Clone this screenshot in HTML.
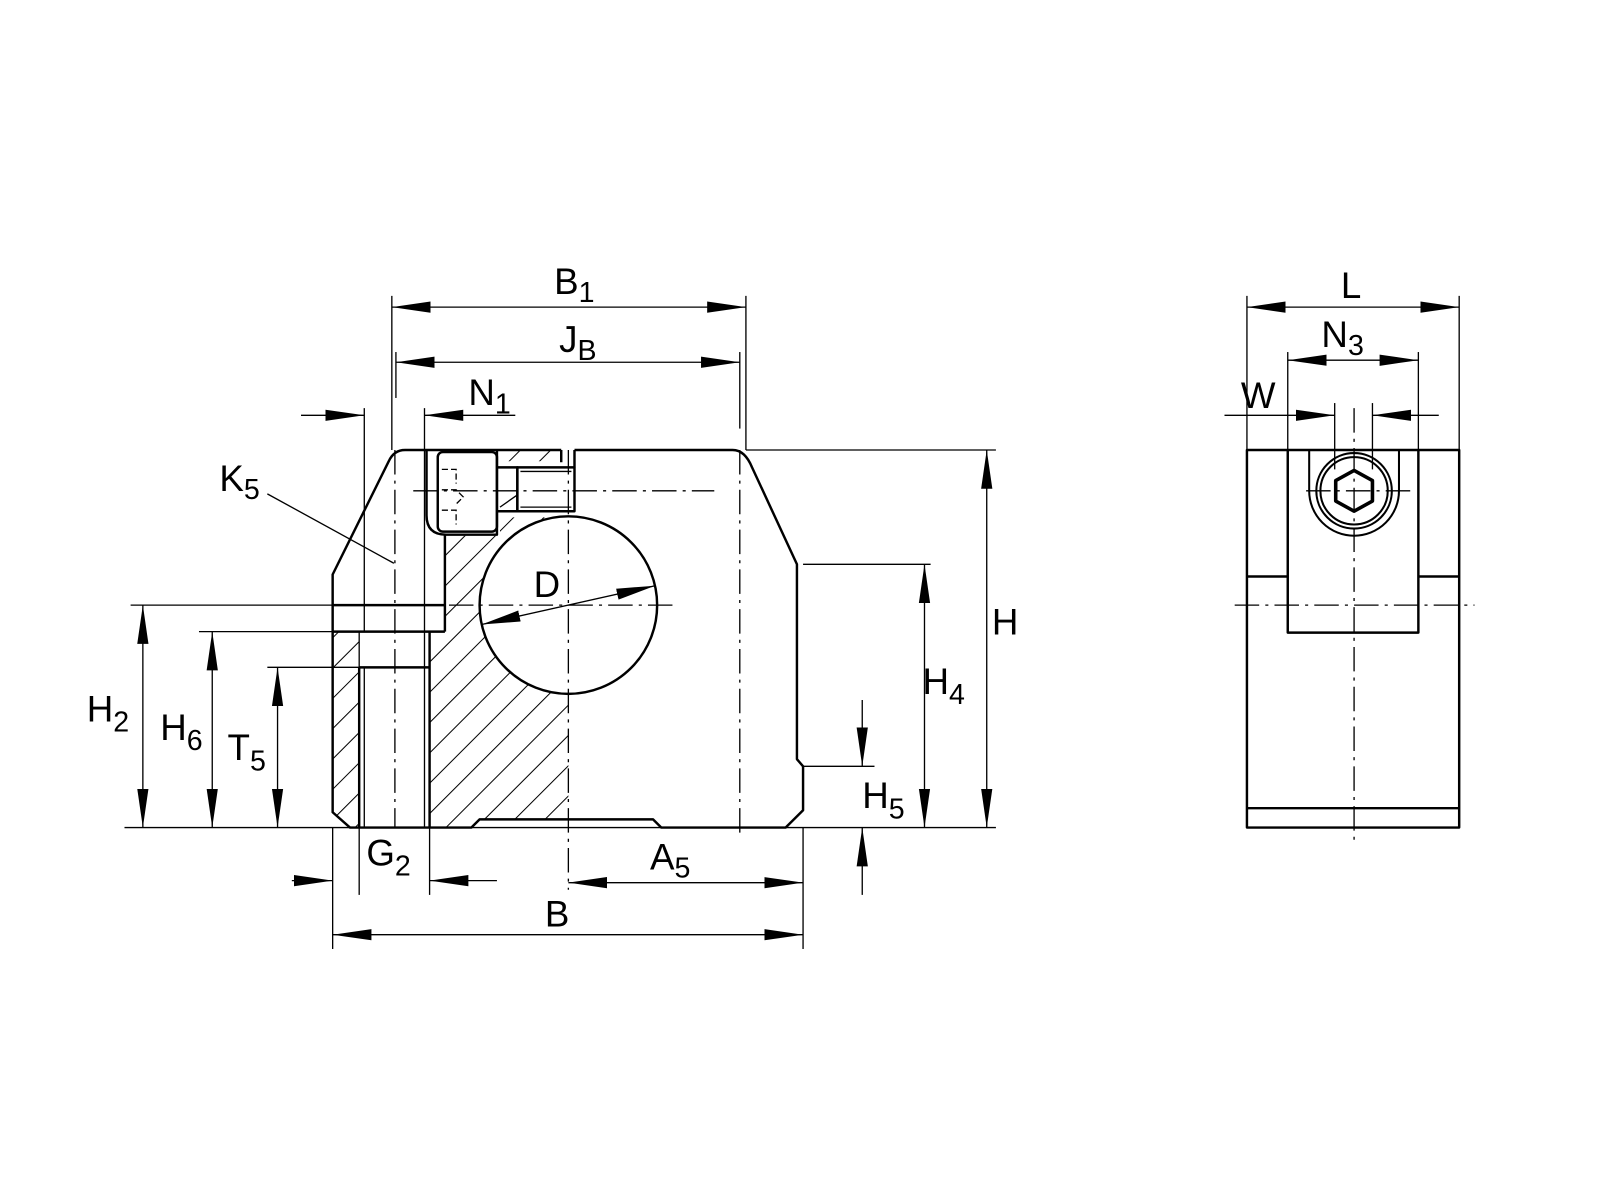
<!DOCTYPE html>
<html><head><meta charset="utf-8"><style>html,body{margin:0;padding:0;background:#fff}svg{display:block}</style></head>
<body>
<svg width="1600" height="1200" viewBox="0 0 1568 1176" xmlns="http://www.w3.org/2000/svg" font-family="'Liberation Sans', sans-serif">
<defs>
<marker id="a" markerUnits="userSpaceOnUse" markerWidth="40" markerHeight="12" refX="38" refY="6" orient="auto-start-reverse"><path d="M0,0.5 L38,6 L0,11.5 z" fill="#000"/></marker>
<pattern id="h" patternUnits="userSpaceOnUse" width="21" height="21" patternTransform="rotate(45)"><line x1="0" y1="0" x2="0" y2="21" stroke="#000" stroke-width="2"/></pattern>
</defs>
<rect width="1568" height="1176" fill="#fff"/>

<polygon points="418,441 557,441 557,803 470,803 462,811 421,811 421,619 436,619 436,524 418,524" fill="url(#h)"/>
<polygon points="326,619 352,619 352,811 343,811 326,796" fill="url(#h)"/>
<rect x="418" y="441" width="72" height="84" fill="#fff"/>
<rect x="486" y="452" width="80" height="55" fill="#fff"/>
<circle cx="557" cy="593" r="87" fill="#fff"/>
<rect x="549" y="441" width="16" height="20" fill="#fff"/>

<g fill="none" stroke="#000" stroke-width="2.4" stroke-linejoin="round">
<path d="M550,441 L397,441 Q386,441 381,452 L326,563 L326,796 L343,811 L462,811 L470,803 L640,803 L648,811 L770,811 L787,794 L787,751 L781,744 L781,553 L737,458 Q730,441 718,441 L563,441"/>
<path d="M550,441 L550,453 M563,441 L563,458"/>
<circle cx="557" cy="593" r="87"/>
<path d="M418,441 L418,505 Q418,524 437,524 L487,524 L487,441"/>
<rect x="429" y="443" width="58" height="78" rx="5"/>
<path d="M487,458 L507,458 L507,501 L487,501"/>
<rect x="507" y="458" width="56" height="43"/>
<line x1="436" y1="524" x2="436" y2="619"/>
<line x1="326" y1="593" x2="436" y2="593"/>
<line x1="326" y1="619" x2="436" y2="619"/>
<line x1="352" y1="654" x2="421" y2="654"/>
<line x1="352" y1="654" x2="352" y2="811"/>
<line x1="421" y1="619" x2="421" y2="811"/>
<rect x="1222" y="441" width="208" height="370"/>
<line x1="1222" y1="792" x2="1430" y2="792"/>
<path d="M1262,441 L1262,620 L1390,620 L1390,441"/>
<line x1="1222" y1="565" x2="1262" y2="565"/>
<line x1="1390" y1="565" x2="1430" y2="565"/>
<path d="M1283,441 L1283,481 A44,44 0 0 0 1371,481 L1371,441" stroke-width="2"/>
<circle cx="1327" cy="481" r="37" stroke-width="2"/>
<circle cx="1327" cy="481" r="33" stroke-width="2"/>
<polygon points="1327,461 1345,471 1345,491 1327,501 1309,491 1309,471" stroke-width="3.5"/>
</g>

<g fill="none" stroke="#000" stroke-width="1.3">
<line x1="352" y1="619" x2="352" y2="654"/>
<line x1="357" y1="400" x2="357" y2="619"/>
<line x1="357" y1="654" x2="357" y2="811"/>
<line x1="416" y1="400" x2="416" y2="811"/>
<line x1="421" y1="619" x2="421" y2="654"/>
<path d="M433,460 L447,460 L447,474 M433,480 L447,480 L454,487 L447,494 M433,500 L447,500 L447,514" stroke-dasharray="6,3"/>
<line x1="490" y1="497" x2="507" y2="485"/>
<line x1="510" y1="462" x2="560" y2="462"/>
<line x1="510" y1="497" x2="560" y2="497"/>
<g stroke-dasharray="24,6,3,6">
<line x1="557" y1="441" x2="557" y2="872"/>
<line x1="725" y1="441" x2="725" y2="822"/>
<line x1="387" y1="441" x2="387" y2="811"/>
<line x1="405" y1="481" x2="700" y2="481"/>
<line x1="440" y1="593" x2="660" y2="593"/>
<line x1="1327" y1="400" x2="1327" y2="825"/>
<line x1="1210" y1="593" x2="1445" y2="593"/>
<line x1="1280" y1="481" x2="1385" y2="481"/>
</g>
<line x1="384" y1="290" x2="384" y2="441"/>
<line x1="731" y1="290" x2="731" y2="441"/>
<line x1="388" y1="345" x2="388" y2="390"/>
<line x1="725" y1="345" x2="725" y2="420"/>
<line x1="731" y1="441" x2="976" y2="441"/>
<line x1="787" y1="553" x2="912" y2="553"/>
<line x1="787" y1="751" x2="857" y2="751"/>
<line x1="122" y1="811" x2="976" y2="811"/>
<line x1="128" y1="593" x2="326" y2="593"/>
<line x1="195" y1="619" x2="326" y2="619"/>
<line x1="262" y1="654" x2="352" y2="654"/>
<line x1="326" y1="811" x2="326" y2="930"/>
<line x1="352" y1="811" x2="352" y2="877"/>
<line x1="421" y1="811" x2="421" y2="877"/>
<line x1="787" y1="811" x2="787" y2="930"/>
<line x1="1222" y1="290" x2="1222" y2="441"/>
<line x1="1430" y1="290" x2="1430" y2="441"/>
<line x1="1262" y1="345" x2="1262" y2="441"/>
<line x1="1390" y1="345" x2="1390" y2="441"/>
<line x1="1308" y1="395" x2="1308" y2="460"/>
<line x1="1345" y1="395" x2="1345" y2="460"/>
<line x1="262" y1="484" x2="386" y2="552"/>
<line x1="384" y1="301" x2="731" y2="301" marker-start="url(#a)" marker-end="url(#a)"/>
<line x1="388" y1="355" x2="725" y2="355" marker-start="url(#a)" marker-end="url(#a)"/>
<line x1="295" y1="407" x2="357" y2="407" marker-end="url(#a)"/>
<line x1="505" y1="407" x2="416" y2="407" marker-end="url(#a)"/>
<line x1="140" y1="593" x2="140" y2="811" marker-start="url(#a)" marker-end="url(#a)"/>
<line x1="208" y1="619" x2="208" y2="811" marker-start="url(#a)" marker-end="url(#a)"/>
<line x1="272" y1="654" x2="272" y2="811" marker-start="url(#a)" marker-end="url(#a)"/>
<line x1="286" y1="863" x2="326" y2="863" marker-end="url(#a)"/>
<line x1="487" y1="863" x2="421" y2="863" marker-end="url(#a)"/>
<line x1="557" y1="865" x2="787" y2="865" marker-start="url(#a)" marker-end="url(#a)"/>
<line x1="326" y1="916" x2="787" y2="916" marker-start="url(#a)" marker-end="url(#a)"/>
<line x1="472" y1="612" x2="642" y2="574" marker-start="url(#a)" marker-end="url(#a)"/>
<line x1="906" y1="553" x2="906" y2="811" marker-start="url(#a)" marker-end="url(#a)"/>
<line x1="967" y1="441" x2="967" y2="811" marker-start="url(#a)" marker-end="url(#a)"/>
<line x1="845" y1="686" x2="845" y2="751" marker-end="url(#a)"/>
<line x1="845" y1="877" x2="845" y2="811" marker-end="url(#a)"/>
<line x1="1222" y1="301" x2="1430" y2="301" marker-start="url(#a)" marker-end="url(#a)"/>
<line x1="1262" y1="353" x2="1390" y2="353" marker-start="url(#a)" marker-end="url(#a)"/>
<line x1="1200" y1="407" x2="1308" y2="407" marker-end="url(#a)"/>
<line x1="1410" y1="407" x2="1345" y2="407" marker-end="url(#a)"/>
</g>

<g font-size="36" fill="#000">
<text x="543" y="288">B<tspan font-size="28" dy="8">1</tspan></text>
<text x="548" y="345">J<tspan font-size="28" dy="8">B</tspan></text>
<text x="459" y="397">N<tspan font-size="28" dy="8">1</tspan></text>
<text x="215" y="481">K<tspan font-size="28" dy="8">5</tspan></text>
<text x="85" y="707">H<tspan font-size="28" dy="10">2</tspan></text>
<text x="157" y="725">H<tspan font-size="28" dy="10">6</tspan></text>
<text x="223" y="745">T<tspan font-size="28" dy="10">5</tspan></text>
<text x="359" y="848">G<tspan font-size="28" dy="10">2</tspan></text>
<text x="637" y="852">A<tspan font-size="28" dy="8">5</tspan></text>
<text x="534" y="908">B</text>
<text x="523" y="585">D</text>
<text x="904" y="680">H<tspan font-size="28" dy="10">4</tspan></text>
<text x="972" y="622">H</text>
<text x="845" y="792">H<tspan font-size="28" dy="10">5</tspan></text>
<text x="1314" y="292">L</text>
<text x="1295" y="340">N<tspan font-size="28" dy="8">3</tspan></text>
<text x="1216" y="400">W</text>
</g>
</svg>
</body></html>
